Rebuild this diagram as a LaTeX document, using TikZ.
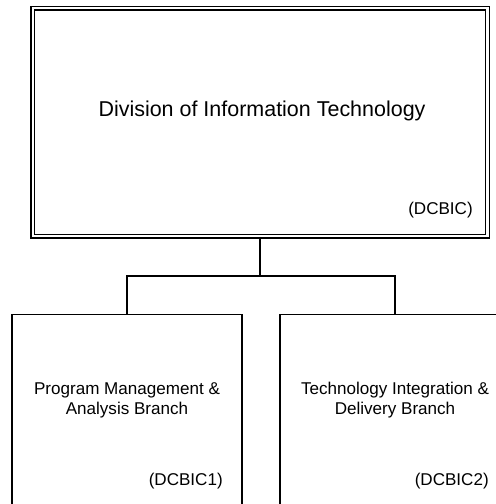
\documentclass[tikz,border=0pt]{standalone}
\usepackage{fontspec}
\setmainfont{Liberation Sans}
\usetikzlibrary{positioning}
\tikzset{
  divbox/.style={ draw, double, line width=1pt, double distance=1.6pt, minimum width=341pt, minimum height=171pt, inner sep=0pt }
}
\tikzset{
  brbox/.style={ draw, line width=1.1pt, minimum width=172.5pt, minimum height=180pt, inner sep=0pt, anchor=north }
}
\tikzset{
  title/.style={ font=\fontsize{16.1}{19}\selectfont, inner sep=0pt, anchor=base }
}
\tikzset{
  brtext/.style={ font=\fontsize{12.8}{15}\selectfont, align=center, inner sep=0pt }
}
\tikzset{
  code/.style={ font=\fontsize{12.8}{15}\selectfont, inner sep=0pt, anchor=base east }
}

\begin{document}
\begin{tikzpicture}[x=0.75pt, y=-0.75pt]
      \clip (0,0) rectangle (496,504);
      \node[divbox] (div) at (260.2, 122.3) {};
      \node[title] (divname) at (262, 116) {Division of Information Technology};
      \node[code] (divcode) at (473, 214) {(DCBIC)};

      \node[brbox] (pmab) at (127, 314) {};
      \node[brtext] (pmabname) at (127, 400) {Program Management \&\\Analysis Branch};
      \node[code] (pmabcode) at (223, 485) {(DCBIC1)};

      \node[brbox] (tidb) at (395, 314) {};
      \node[brtext] (tidbname) at (395, 400) {Technology Integration \&\\Delivery Branch};
      \node[code] (tidbcode) at (489, 485) {(DCBIC2)};

      \path (div.south) ++(0, 39) coordinate (j);
      \draw[line width=1.1pt] (div.south) -- (j);
      \draw[line width=1.1pt] (j) -| (pmab.north);
      \draw[line width=1.1pt] (j) -| (tidb.north);
    \end{tikzpicture}
\end{document}
